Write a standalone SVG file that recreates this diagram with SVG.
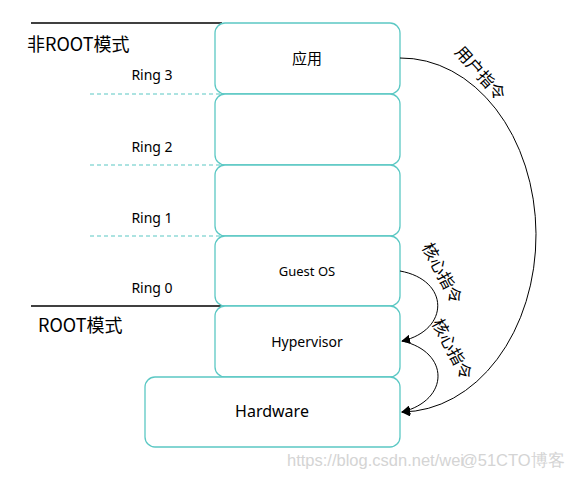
<svg xmlns="http://www.w3.org/2000/svg" width="568" height="479" viewBox="0 0 568 479">
<style>
.box{fill:#fff;stroke:#5bc8c4;stroke-width:1.3}
.dash{stroke:#5bc8c4;stroke-width:1.2;stroke-dasharray:4,3;fill:none}
.solid{stroke:#000;stroke-width:1.3}
.t{font-family:"Noto Sans","Noto Sans CJK SC",sans-serif;fill:#000}
.cj{font-family:"Noto Sans CJK SC",sans-serif;fill:#000}
.conn{fill:none;stroke:#000;stroke-width:1}
.wm{font-family:"Liberation Sans",sans-serif;fill:#d4d4d4;font-size:16.5px}
</style>
<defs>
<marker id="arr" viewBox="0 0 10 10" refX="9" refY="5" markerWidth="9" markerHeight="9" markerUnits="userSpaceOnUse" orient="auto">
<path d="M0,0 L10,5 L0,10 z" fill="#000"/>
</marker>
</defs>
<g id="guides">
<line class="solid" x1="31" y1="23" x2="222" y2="23"/>
<line class="solid" x1="31" y1="306" x2="222" y2="306"/>
<line class="dash" x1="90" y1="94" x2="222" y2="94"/>
<line class="dash" x1="90" y1="165" x2="222" y2="165"/>
<line class="dash" x1="90" y1="236" x2="222" y2="236"/>
<text class="cj" x="27" y="51" font-size="18">非ROOT模式</text>
<text class="cj" x="38" y="332" font-size="18">ROOT模式</text>
<text class="t" x="152" y="80" font-size="14" text-anchor="middle">Ring 3</text>
<text class="t" x="152" y="152" font-size="14" text-anchor="middle">Ring 2</text>
<text class="t" x="152" y="223" font-size="14" text-anchor="middle">Ring 1</text>
<text class="t" x="152" y="293" font-size="14" text-anchor="middle">Ring 0</text>
</g>
<g id="app">
<rect class="box" x="215" y="23" width="185" height="71" rx="10"/>
<text class="cj" x="307" y="64" font-size="15" text-anchor="middle">应用</text>
</g>
<g id="ring2box">
<rect class="box" x="215" y="94" width="185" height="71" rx="10"/>
</g>
<g id="ring1box">
<rect class="box" x="215" y="165" width="185" height="71" rx="10"/>
</g>
<g id="guestos">
<rect class="box" x="215" y="236" width="185" height="70" rx="10"/>
<text class="t" x="307" y="276" font-size="13" text-anchor="middle">Guest OS</text>
</g>
<g id="hypervisor">
<rect class="box" x="215" y="306" width="185" height="71" rx="10"/>
<text class="t" x="307" y="347" font-size="14" text-anchor="middle">Hypervisor</text>
</g>
<g id="hardware">
<rect class="box" x="145" y="377" width="255" height="70" rx="10"/>
<text class="t" x="272" y="417" font-size="16" text-anchor="middle">Hardware</text>
</g>
<g id="connectors">
<path class="conn" d="M400,58 A135,177 0 0 1 402,412" marker-end="url(#arr)"/>
<path class="conn" d="M400,271 C450,280 450,330 402,341" marker-end="url(#arr)"/>
<path class="conn" d="M402,341 C450,352 450,400 402,412" marker-end="url(#arr)"/>
<text class="cj" font-size="16.5" transform="translate(476,77) rotate(48)" text-anchor="middle">用户指令</text>
<text class="cj" font-size="16.5" transform="translate(437,276) rotate(62)" text-anchor="middle">核心指令</text>
<text class="cj" font-size="16.5" transform="translate(447,352) rotate(62)" text-anchor="middle">核心指令</text>
</g>
<g id="watermark">
<text class="wm" x="287" y="466">https://blog.csdn.net/wei</text>
<text class="wm" x="461" y="466" font-family="Noto Sans CJK SC, sans-serif" fill="#c8c8c8">@51CTO博客</text>
</g>
</svg>
